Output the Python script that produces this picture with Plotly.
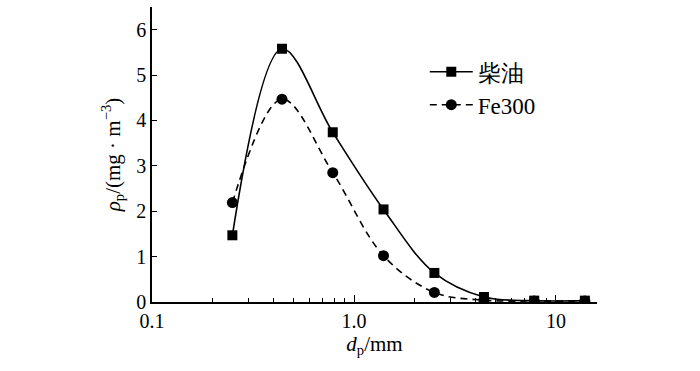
import plotly.graph_objects as go

dp = [0.25, 0.44, 0.785, 1.40, 2.5, 4.4, 7.8, 13.9]
diesel = [1.47, 5.58, 3.74, 2.04, 0.64, 0.11, 0.03, 0.03]
fe300 = [2.19, 4.47, 2.85, 1.02, 0.21, 0.04, 0.02, 0.02]
names = ["柴油", "Fe300"]
x_tickvals = [0.1, 1.0, 10]
x_ticktext = ["0.1", "1.0", "10"]
x_minor = [0.2, 0.3, 0.4, 0.5, 0.6, 0.7, 0.8, 0.9, 2, 3, 4, 5, 6, 7, 8, 9]
y_tickvals = [0, 1, 2, 3, 4, 5, 6]

SERIF = "Liberation Serif"

fig = go.Figure()
fig.add_trace(go.Scatter(
    x=dp, y=diesel, name=names[0], mode="lines+markers",
    line=dict(color="black", width=1.6, shape="spline", smoothing=1),
    marker=dict(symbol="square", size=10, color="black"),
))
fig.add_trace(go.Scatter(
    x=dp, y=fe300, name=names[1], mode="lines+markers",
    line=dict(color="black", width=1.6, dash="7px,5px", shape="spline", smoothing=1),
    marker=dict(symbol="circle", size=11, color="black"),
))

fig.update_layout(
    width=700, height=371,
    margin=dict(l=152, r=103, t=7, b=69),
    paper_bgcolor="white", plot_bgcolor="white",
    font=dict(family=SERIF, size=20, color="black"),
    showlegend=True,
    legend=dict(x=0.613, y=0.853, xanchor="left", yanchor="top",
                bgcolor="rgba(0,0,0,0)", font=dict(size=23, family=SERIF, color="black"),
                tracegroupgap=0, itemwidth=43),
    xaxis=dict(
        type="log", range=[-1, 1.203],
        tickmode="array", tickvals=x_tickvals, ticktext=x_ticktext,
        ticks="inside", ticklen=7, tickwidth=1.2, tickcolor="black",
        minor=dict(tickmode="array", tickvals=x_minor, ticks="inside",
                   ticklen=4, tickwidth=1, tickcolor="black", showgrid=False),
        showline=True, linecolor="black", linewidth=1.6,
        showgrid=False, zeroline=False,
        title=dict(text="<i>d</i><sub>p</sub>/mm", standoff=4,
                   font=dict(size=21, family=SERIF, color="black")),
        tickfont=dict(size=20, family=SERIF, color="black"),
    ),
    yaxis=dict(
        range=[0, 6.5],
        tickmode="array", tickvals=y_tickvals,
        ticks="inside", ticklen=5, tickwidth=1.2, tickcolor="black",
        showline=True, linecolor="black", linewidth=1.6,
        showgrid=False, zeroline=False,
        title=dict(text="<i>ρ</i><sub>p</sub>/(mg · m<sup>−3</sup>)", standoff=10,
                   font=dict(size=21, family=SERIF, color="black")),
        tickfont=dict(size=20, family=SERIF, color="black"),
    ),
)

fig.write_html("out.html", config={"displayModeBar": False},
               post_script="document.body.style.margin='0px';")
